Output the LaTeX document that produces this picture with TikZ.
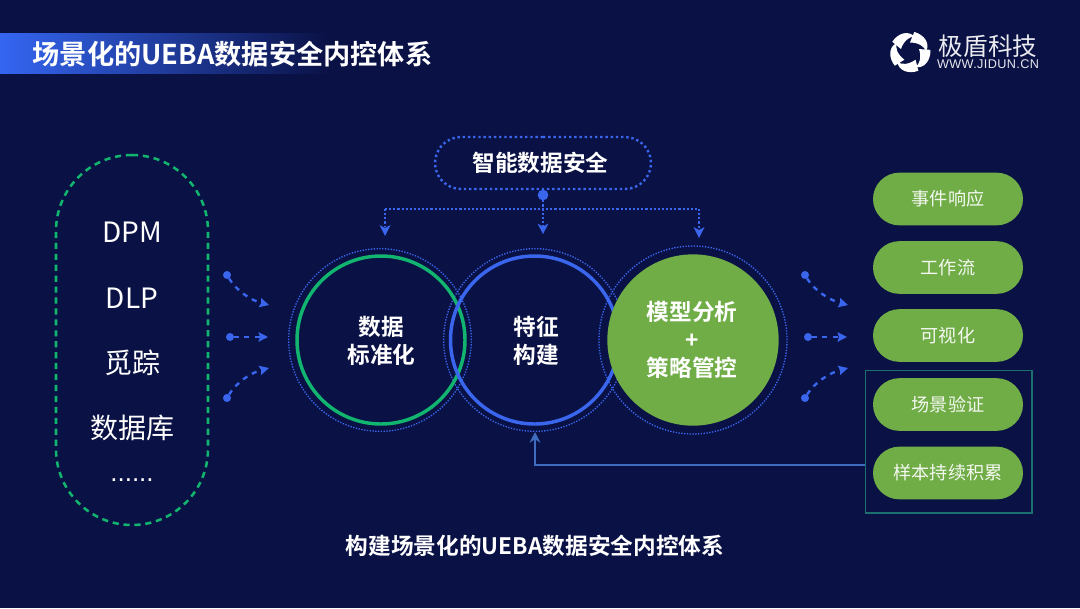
\documentclass[tikz,border=0pt]{standalone}
\usepackage{fontspec}
\usetikzlibrary{arrows.meta,shapes.misc,calc}
\setmainfont{Noto Sans CJK SC}[BoldFont={* Bold}]
\newfontfamily\latinb{Liberation Sans}[Scale=1]
\definecolor{bg}{HTML}{0A1145}
\definecolor{barblue}{HTML}{3566F2}
\definecolor{dotblue}{HTML}{3A66EE}
\definecolor{ringgreen}{HTML}{12B56F}
\definecolor{pillgreen}{HTML}{70AD47}
\definecolor{boxteal}{HTML}{1B6F6C}
\definecolor{feedblue}{HTML}{3F6CBF}
\tikzset{
  x=0.75pt,y=-0.75pt,
  every node/.style={inner sep=0,outer sep=0,align=center,text=white},
  pill/.style={rounded rectangle,fill=pillgreen,minimum width=112.5pt,minimum height=39.5pt,font=\fontsize{13.6pt}{17pt}\selectfont,text=white!92!pillgreen},
  sideitem/.style={font=\fontsize{21pt}{24pt}\selectfont,text=white},
  ring/.style={circle,line width=2.6pt,minimum size=126pt},
  halo/.style={circle,draw=dotblue,line width=1pt,dash pattern=on 1pt off 1.1pt},
  ctitle/.style={font=\bfseries\fontsize{17pt}{21pt}\selectfont},
  treeline/.style={draw=dotblue,line width=1.6pt,dash pattern=on 1.6pt off 1.5pt},
  flow/.style={draw=dotblue,line width=1.8pt,dash pattern=on 3.8pt off 4pt,-{Stealth[length=7pt,width=7pt,inset=1pt,sep=0pt]}},
  srcdot/.style={circle,fill=dotblue,minimum size=6pt}
}
\begin{document}
\begin{tikzpicture}
\useasboundingbox (0,0) rectangle (1080,608);
\fill[bg] (0,0) rectangle (1080,608);
% title
\shade[left color=barblue,right color=bg] (0,33) rectangle (330,73);
\node[font=\bfseries\fontsize{20.4pt}{22pt}\selectfont] (title) at (232.5,54) {场景化的UEBA数据安全内控体系};
% logo
\begin{scope}[shift={(910,52)}]
\foreach \a in {0,72,144,216,288}{
  \fill[white,rotate=\a] (-6:20.5) .. controls (22:22.5) and (50:22) .. (70:16)
     .. controls (52:15.5) and (25:13) .. (-18:9.5) -- cycle;
}
\end{scope}
\node[font=\fontsize{18.4pt}{20pt}\selectfont,text=white!92!bg] (logotext) at (988,46.5) {极盾科技};
\node[font=\latinb\fontsize{9.5pt}{10pt}\selectfont,text=white!90!bg] (logourl) at (988,64) {\addfontfeature{LetterSpace=3}WWW.JIDUN.CN};
% left pill
\node[rectangle,rounded corners=57pt,draw=ringgreen,line width=1.9pt,dash pattern=on 4.6pt off 3.6pt,minimum width=114pt,minimum height=277.5pt] (sources) at (132,340) {};
\node[sideitem] (dpm) at (132,232) {DPM};
\node[sideitem] (dlp) at (132,298) {DLP};
\node[sideitem] (mz) at (132,363) {觅踪};
\node[sideitem] (db) at (132,428) {数据库};
\node[font=\latinb\fontsize{19.5pt}{22pt}\selectfont,anchor=base] (more) at (132,481) {......};
% halos
\node[halo,minimum size=137pt] (h1) at (380,340) {};
\node[halo,minimum size=137pt] (h2) at (535,340) {};
\node[halo,minimum size=141pt] (h3) at (693,340) {};
% rings
\node[ring,draw=ringgreen] (c1) at (381,340) {};
\node[ring,draw=dotblue] (c2) at (534.5,340) {};
\node[circle,fill=pillgreen,minimum size=128.5pt] (c3) at (693,340) {};
\node[ctitle] (t1) at (381.5,340.5) {数据\\标准化};
\node[ctitle] (t2) at (536,340.5) {特征\\构建};
\node[ctitle] (t3) at (692,340) {模型分析\\+\\策略管控};
% top
\node[rounded rectangle,draw=dotblue,line width=1.8pt,dash pattern=on 1.8pt off 2.1pt,minimum width=162pt,minimum height=39pt] (top) at (543,163) {};
\node[font=\bfseries\fontsize{17pt}{20pt}\selectfont] (toptext) at (540.5,163) {智能数据安全};
\node[circle,fill=dotblue,minimum size=8pt] (hub) at (543,195) {};
\coordinate (tl) at (385,209);
\coordinate (tr) at (699,209);
\coordinate (tm) at (543,209);
\coordinate (al) at (385,236);
\coordinate (am) at (543,234);
\coordinate (ar) at (699,238);
\draw[treeline] (tl) -- (tr);
\draw[treeline] (tl) -- (385,226);
\draw[treeline] (hub) -- (543,226);
\draw[treeline] (tr) -- (699,228);
\fill[dotblue] (al) -- (379.5,225) -- (385,228) -- (390.5,225) -- cycle;
\fill[dotblue] (am) -- (537.5,223.5) -- (543,226.5) -- (548.5,223.5) -- cycle;
\fill[dotblue] (ar) -- (693.5,227) -- (699,230) -- (704.5,227) -- cycle;
% flow left
\node[srcdot] (a1) at (227,275) {};
\node[srcdot] (a2) at (230,337) {};
\node[srcdot] (a3) at (227,398) {};
\coordinate (a1e) at (269,305);
\coordinate (a2e) at (268,337);
\coordinate (a3e) at (269,368);
\draw[flow] (a1) .. controls (236,290) and (250,300) .. (a1e);
\draw[flow] (a2) -- (a2e);
\draw[flow] (a3) .. controls (236,383) and (250,373) .. (a3e);
% flow right
\node[srcdot] (b1) at (805,275) {};
\node[srcdot] (b2) at (808,337) {};
\node[srcdot] (b3) at (805,398) {};
\coordinate (b1e) at (848,305);
\coordinate (b2e) at (847,337);
\coordinate (b3e) at (848,368);
\draw[flow] (b1) .. controls (814,290) and (829,300) .. (b1e);
\draw[flow] (b2) -- (b2e);
\draw[flow] (b3) .. controls (814,383) and (829,373) .. (b3e);
% right pills
\node[pill] (p1) at (948,199) {事件响应};
\node[pill] (p2) at (948,267.5) {工作流};
\node[pill] (p3) at (948,335.5) {可视化};
\node[pill] (p4) at (948,404.5) {场景验证};
\node[pill] (p5) at (948,473) {样本持续积累};
\node[draw=boxteal,line width=1pt,minimum width=125pt,minimum height=107pt] (grp) at (948.5,441.5) {};
% feedback
\coordinate (fb) at (535,465);
\coordinate (fbtip) at (535,432);
\draw[feedblue,line width=1.9pt,-{Stealth[length=8pt,width=8pt]}] (grp.west|-fb) -- (fb) -- (fbtip);
% bottom
\node[font=\bfseries\fontsize{17pt}{19pt}\selectfont] (foot) at (535,546) {构建场景化的UEBA数据安全内控体系};
\end{tikzpicture}
\end{document}
